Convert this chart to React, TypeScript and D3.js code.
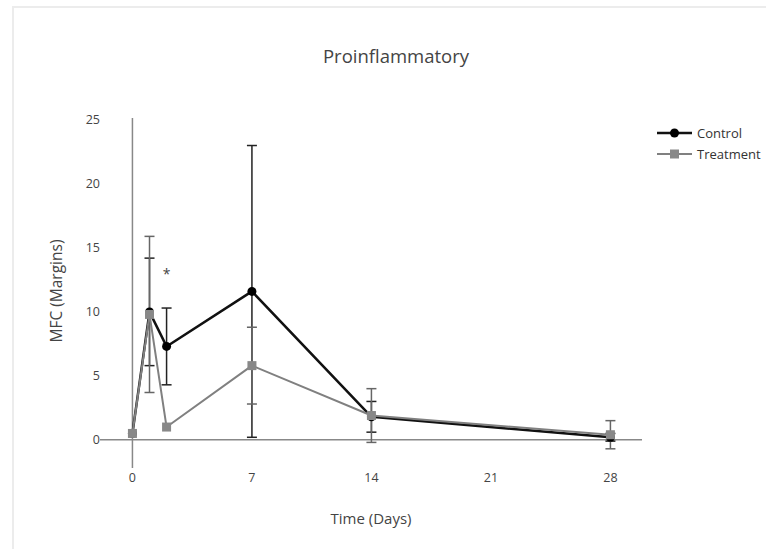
import React from 'react'
import * as d3 from 'd3'

// days sampled
const days = [0, 1, 2, 7, 14, 28]
const xTicks = [0, 7, 14, 21, 28]
const yTicks = [0, 5, 10, 15, 20, 25]

const controlMean = [0.5, 10, 7.3, 11.6, 1.8, 0.2]
const controlErr = [0, 4.2, 3.0, 11.4, 1.2, 0.3]
const treatmentMean = [0.5, 9.8, 1.0, 5.8, 1.9, 0.4]
const treatmentErr = [0, 6.1, 0, 3.0, 2.1, 1.1]

const W = 766
const H = 549
const font = "'Open Sans', sans-serif"

const x = d3.scaleLinear().domain([-1.9, 29.85]).range([100, 642])
const y = d3.scaleLinear().domain([-2.2, 25.15]).range([468, 118])

const series = [
  { name: 'Control', mean: controlMean, err: controlErr, color: '#111', width: 2.5, errColor: '#222' },
  { name: 'Treatment', mean: treatmentMean, err: treatmentErr, color: '#808080', width: 2, errColor: '#666' },
]

const line = d3.line<number>()
  .x((_, i) => x(days[i]))
  .y((d) => y(d))

const Marker = ({ kind, cx, cy, color }: { kind: string; cx: number; cy: number; color: string }) =>
  kind === 'Control'
    ? <circle cx={cx} cy={cy} r={4.5} fill={color} />
    : <rect x={cx - 4.5} y={cy - 4.5} width={9} height={9} fill={color} />

const App = () => {
  const [x0, x1] = x.range()
  const [y0, y1] = y.range()
  return (
    <svg width={W} height={H} style={{ position: 'absolute', left: 0, top: 0 }} fontFamily={font}>
      <rect width={W} height={H} fill="#fff" />
      {/* card frame */}
      <path d={`M13,${H} V7 H${W}`} fill="none" stroke="#ececec" strokeWidth={2} />

      <text x={396} y={63} textAnchor="middle" fontSize={18.5} fill="#444">Proinflammatory</text>

      {/* zero lines */}
      <line x1={x0} x2={x1} y1={y(0)} y2={y(0)} stroke="#888" strokeWidth={1.5} />
      <line x1={x(0)} x2={x(0)} y1={y0} y2={y1} stroke="#888" strokeWidth={1.5} />

      {yTicks.map((t) => (
        <text key={t} x={100} y={y(t)} dy="0.35em" textAnchor="end" fontSize={12.5} fill="#444">{t}</text>
      ))}
      {xTicks.map((t) => (
        <text key={t} x={x(t)} y={482} textAnchor="middle" fontSize={12.5} fill="#444">{t}</text>
      ))}

      <text x={371} y={524} textAnchor="middle" fontSize={15} fill="#444">Time (Days)</text>
      <text transform={`translate(62,${291}) rotate(-90)`} textAnchor="middle" fontSize={15.5} fill="#444">MFC (Margins)</text>

      {/* error bars */}
      {series.map((s) => (
        <g key={s.name + 'err'} stroke={s.errColor} strokeWidth={1.5}>
          {s.mean.map((m, i) => s.err[i] > 0 && (
            <g key={i}>
              <line x1={x(days[i])} x2={x(days[i])} y1={y(m - s.err[i])} y2={y(m + s.err[i])} />
              <line x1={x(days[i]) - 5} x2={x(days[i]) + 5} y1={y(m - s.err[i])} y2={y(m - s.err[i])} />
              <line x1={x(days[i]) - 5} x2={x(days[i]) + 5} y1={y(m + s.err[i])} y2={y(m + s.err[i])} />
            </g>
          ))}
        </g>
      ))}

      {/* lines and markers, treatment drawn over control */}
      {series.map((s) => (
        <g key={s.name}>
          <path d={line(s.mean) ?? ''} fill="none" stroke={s.color} strokeWidth={s.width} strokeLinejoin="round" />
          {s.mean.map((m, i) => (
            <Marker key={i} kind={s.name} cx={x(days[i])} cy={y(m)} color={s.name === 'Control' ? '#000' : '#888'} />
          ))}
        </g>
      ))}

      <text x={x(2)} y={y(13.3)} dy="0.7em" textAnchor="middle" fontSize={14} fill="#444">*</text>

      {/* legend */}
      {series.map((s, i) => (
        <g key={s.name + 'leg'} transform={`translate(657,${133 + i * 21})`}>
          <line x1={0} x2={35} stroke={s.color} strokeWidth={s.width} />
          <Marker kind={s.name} cx={17.5} cy={0} color={s.name === 'Control' ? '#000' : '#888'} />
          <text x={40} dy="0.35em" fontSize={13} fill="#333">{s.name}</text>
        </g>
      ))}
    </svg>
  )
}

export default App
